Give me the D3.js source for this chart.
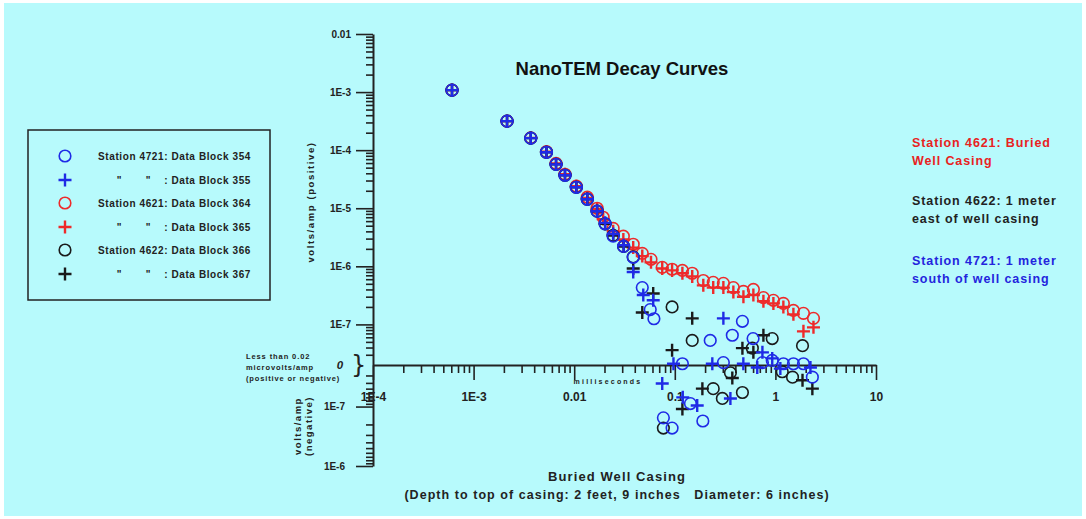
<!DOCTYPE html>
<html><head><meta charset="utf-8">
<script src="https://cdn.jsdelivr.net/npm/d3@7"></script>
<style>
body{margin:0;background:#fff;}
svg{display:block;font-family:"Liberation Sans",Arial,sans-serif;}
</style></head><body>
<svg id="c" width="1086" height="519"></svg>
<script>
// ---- data: [time (ms), volts/amp] ----
const blue354 = [[0.00061,1.08e-3],[0.00215,3.16e-4],[0.0037,1.61e-4],[0.0053,9.2e-5],[0.0066,5.7e-5],[0.0081,3.7e-5],[0.0105,2.3e-5],[0.0135,1.43e-5],[0.0169,8.9e-6],[0.0203,5.4e-6],[0.0244,3.3e-6],[0.031,2.2e-6],[0.0386,1.43e-6],[0.0475,4.3e-7],[0.057,1.8e-7],[0.062,1.25e-7],[0.077,-1.55e-7],[0.094,-2.3e-7],[0.119,2.1e-8],[0.143,-8.9e-8],[0.19,-1.75e-7],[0.225,5.3e-8],[0.304,2.2e-8],[0.373,6.5e-8],[0.47,1.13e-7],[0.6,5.7e-8],[0.743,2.2e-8],[0.93,2.4e-8],[1.2,2.1e-8],[1.51,2.1e-8],[1.9,2.1e-8],[2.33,-3.2e-8]];
const blue355 = [[0.00061,1.08e-3],[0.00215,3.16e-4],[0.0037,1.61e-4],[0.0053,9.2e-5],[0.0066,5.7e-5],[0.0081,3.7e-5],[0.0105,2.3e-5],[0.0135,1.43e-5],[0.0169,8.9e-6],[0.0203,5.6e-6],[0.0244,3.6e-6],[0.031,2.3e-6],[0.0386,8.0e-7],[0.0486,3.2e-7],[0.061,2.6e-7],[0.075,-4.1e-8],[0.097,2.1e-8],[0.12,-7e-8],[0.167,-9.6e-8],[0.236,2.1e-8],[0.304,1.27e-7],[0.357,-7.3e-8],[0.48,2.1e-8],[0.66,-2.2e-8],[0.743,3.3e-8],[0.93,2.6e-8],[1.12,-2.3e-8],[2.23,-2.2e-8]];
const red364 = [[0.00061,1.08e-3],[0.00215,3.16e-4],[0.0037,1.63e-4],[0.0053,9.4e-5],[0.0066,5.9e-5],[0.0081,3.85e-5],[0.0105,2.4e-5],[0.0135,1.55e-5],[0.0169,1.0e-5],[0.0194,7.0e-6],[0.0244,4.5e-6],[0.0308,3.3e-6],[0.0386,2.4e-6],[0.0475,1.67e-6],[0.058,1.32e-6],[0.075,9.6e-7],[0.094,8.9e-7],[0.119,8.5e-7],[0.149,7.6e-7],[0.192,5.7e-7],[0.241,5.3e-7],[0.304,5.1e-7],[0.382,4.3e-7],[0.481,3.7e-7],[0.604,4.0e-7],[0.76,2.9e-7],[0.955,2.6e-7],[1.2,2.3e-7],[1.51,1.74e-7],[1.9,1.55e-7],[2.39,1.27e-7]];
const red365 = [[0.00061,1.08e-3],[0.00215,3.16e-4],[0.0037,1.63e-4],[0.0053,9.4e-5],[0.0066,5.9e-5],[0.0081,3.85e-5],[0.0105,2.4e-5],[0.0135,1.5e-5],[0.0169,9.7e-6],[0.0194,6.5e-6],[0.0244,4.0e-6],[0.0308,2.9e-6],[0.0386,2.1e-6],[0.0475,1.5e-6],[0.058,1.17e-6],[0.075,9.2e-7],[0.094,8.5e-7],[0.119,7.6e-7],[0.149,6.7e-7],[0.192,4.7e-7],[0.241,4.3e-7],[0.304,4.3e-7],[0.382,3.6e-7],[0.481,3.0e-7],[0.604,3.2e-7],[0.76,2.5e-7],[0.955,2.3e-7],[1.2,2.0e-7],[1.51,1.49e-7],[1.9,7.6e-8],[2.39,8.9e-8]];
const black366 = [[0.00061,1.08e-3],[0.00215,3.16e-4],[0.0037,1.61e-4],[0.0053,9.2e-5],[0.0066,5.7e-5],[0.0081,3.7e-5],[0.0105,2.3e-5],[0.0135,1.43e-5],[0.0169,8.9e-6],[0.0203,5.4e-6],[0.0244,3.4e-6],[0.031,2.2e-6],[0.0386,1.45e-6],[0.077,-2.3e-7],[0.094,2.0e-7],[0.149,5.3e-8],[0.241,-5e-8],[0.297,-7.3e-8],[0.357,-2.7e-8],[0.47,-5.8e-8],[0.59,3.9e-8],[0.93,5.7e-8],[1.17,-2.6e-8],[1.48,-3.2e-8],[1.86,4.3e-8]];
const black367 = [[0.00061,1.08e-3],[0.00215,3.16e-4],[0.0037,1.61e-4],[0.0053,9.2e-5],[0.0066,5.7e-5],[0.0081,3.7e-5],[0.0105,2.3e-5],[0.0135,1.43e-5],[0.0169,8.9e-6],[0.0203,5.4e-6],[0.0244,3.4e-6],[0.031,2.2e-6],[0.0386,9.2e-7],[0.0475,1.6e-7],[0.061,3.4e-7],[0.094,3.6e-8],[0.119,-1.1e-7],[0.149,1.27e-7],[0.188,-5e-8],[0.373,-3.3e-8],[0.47,3.9e-8],[0.604,3.3e-8],[0.76,6.5e-8],[1.86,-3.6e-8],[2.33,-5e-8]];

const legendLabels = ["Station 4721: Data Block 354", ": Data Block 355", "Station 4621: Data Block 364", ": Data Block 365", "Station 4622: Data Block 366", ": Data Block 367"];
const xTickLabels = ["1E-4", "1E-3", "0.01", "0.1", "1", "10"];
const yPosTickLabels = ["1E-7", "1E-6", "1E-5", "1E-4", "1E-3", "0.01"];
const yNegTickLabels = ["1E-7", "1E-6"];
const notes = [
  ["Station 4621: Buried", "Well Casing"],
  ["Station 4622: 1 meter", "east of well casing"],
  ["Station 4721: 1 meter", "south of well casing"]
];

const BLUE = "#1f2ae6", RED = "#ee2a2a", BLACK = "#1a1a1a";
const series = [
  {data: red364, color: RED, shape: "circle"},
  {data: red365, color: RED, shape: "plus"},
  {data: black366, color: BLACK, shape: "circle"},
  {data: black367, color: BLACK, shape: "plus"},
  {data: blue354, color: BLUE, shape: "circle"},
  {data: blue355, color: BLUE, shape: "plus"}
];
const legendOrder = [
  {color: BLUE, shape: "circle"}, {color: BLUE, shape: "plus"},
  {color: RED, shape: "circle"}, {color: RED, shape: "plus"},
  {color: BLACK, shape: "circle"}, {color: BLACK, shape: "plus"}
];

const svg = d3.select("#c");
svg.append("rect").attr("x", 4).attr("y", 3).attr("width", 1078).attr("height", 513).attr("fill", "#b7fafc");

const ZERO = 2e-8;
const x = d3.scaleLog().domain([1e-4, 10]).range([373, 876]);
const yPos = d3.scaleLog().domain([ZERO, 0.01]).range([365, 34]);
const yNeg = d3.scaleLog().domain([ZERO, 1e-6]).range([365, 466]);
const y = v => v >= ZERO ? yPos(v) : (v <= -ZERO ? yNeg(-v) : yPos(ZERO));

function minorTicks(lo, hi) {
  const out = [];
  for (let e = Math.round(Math.log10(lo)); e < Math.round(Math.log10(hi)); e++) {
    for (let k = 1; k <= 9; k++) out.push(+(k * Math.pow(10, e)).toPrecision(3));
  }
  out.push(hi);
  return out;
}
const isMajor = v => Math.abs(Math.log10(v) - Math.round(Math.log10(v))) < 1e-6;

// y axis positive
const posTicks = minorTicks(1e-8, 0.01).filter(v => v > ZERO * 1.01);
const gyP = svg.append("g").attr("transform", "translate(373,0)")
  .call(d3.axisLeft(yPos).tickValues(posTicks).tickSize(17).tickSizeOuter(0).tickPadding(5)
    .tickFormat(v => isMajor(v) && v >= 1e-7 ? yPosTickLabels[Math.round(Math.log10(v)) + 7] : ""));
// y axis negative
const negTicks = minorTicks(1e-8, 1e-6).filter(v => v > ZERO * 1.01);
const gyN = svg.append("g").attr("transform", "translate(373,0)")
  .call(d3.axisLeft(yNeg).tickValues(negTicks).tickSize(17).tickSizeOuter(0).tickPadding(11)
    .tickFormat(v => isMajor(v) && v >= 1e-7 ? yNegTickLabels[Math.round(Math.log10(v)) + 7] : ""));
[gyP, gyN].forEach(g => {
  g.select(".domain").attr("stroke", "#222").attr("stroke-width", 2);
  g.selectAll(".tick line").attr("stroke", "#222").attr("stroke-width", 1.6)
    .attr("x2", v => isMajor(v) ? -17 : -7);
  g.selectAll(".tick text").attr("font-size", 10).attr("font-weight", "bold").attr("fill", "#222");
});

// x axis
const xTicks = minorTicks(1e-4, 10);
const gx = svg.append("g").attr("transform", "translate(0,365)")
  .call(d3.axisBottom(x).tickValues(xTicks).tickSize(15).tickSizeOuter(0).tickPadding(12)
    .tickFormat(v => isMajor(v) ? xTickLabels[Math.round(Math.log10(v)) + 4] : ""));
gx.select(".domain").attr("stroke", "#222").attr("stroke-width", 2);
gx.selectAll(".tick line").attr("stroke", "#222").attr("stroke-width", 1.6)
  .attr("y2", v => isMajor(v) ? 15 : 8);
gx.selectAll(".tick text").attr("font-size", 12).attr("font-weight", "bold").attr("fill", "#222");

// markers
function drawMarker(sel, shape, color) {
  if (shape === "circle") {
    sel.append("circle").attr("r", 5.8).attr("fill", "none").attr("stroke", color).attr("stroke-width", 1.6);
  } else {
    sel.append("path").attr("d", "M-6.5,0H6.5M0,-6.5V6.5").attr("stroke", color).attr("stroke-width", 2.4).attr("fill", "none");
  }
}
series.forEach(s => {
  const g = svg.append("g");
  s.data.forEach(d => {
    const m = g.append("g").attr("transform", `translate(${x(d[0])},${y(d[1])})`);
    drawMarker(m, s.shape, s.color);
  });
});

// title & texts
const txt = (xx, yy, str, size, opts = {}) => {
  const t = svg.append("text").attr("x", xx).attr("y", yy).text(str)
    .attr("font-size", size).attr("font-weight", opts.weight || "bold")
    .attr("fill", opts.fill || "#222").attr("text-anchor", opts.anchor || "start")
    .style("white-space", "pre");
  if (opts.ls) t.attr("letter-spacing", opts.ls);
  if (opts.style) t.attr("font-style", opts.style);
  if (opts.rotate) t.attr("transform", `rotate(-90,${xx},${yy})`);
  return t;
};
txt(622, 75, "NanoTEM Decay Curves", 18.5, {anchor: "middle", fill: "#111"});
txt(617, 481, "Buried Well Casing", 13, {anchor: "middle", ls: 1.1});
txt(617, 499, "(Depth to top of casing: 2 feet, 9 inches   Diameter: 6 inches)", 12.5, {anchor: "middle", ls: 1.05});
txt(608, 384, "milliseconds", 7, {anchor: "middle", ls: 2.2});
txt(314, 202, "volts/amp (positive)", 9.5, {anchor: "middle", ls: 1.6, rotate: true});
txt(301, 426, "volts/amp", 9.5, {anchor: "middle", ls: 1.5, rotate: true});
txt(312, 426, "(negative)", 9.5, {anchor: "middle", ls: 1.5, rotate: true});
txt(246, 359, "Less than 0.02", 7.5, {ls: 0.9});
txt(246, 370, "microvolts/amp", 7.5, {ls: 0.9});
txt(246, 381, "(positive or negative)", 7.5, {ls: 0.85});
txt(340, 369, "0", 11.5, {anchor: "middle", style: "italic"});
txt(351, 373, "}", 24, {weight: "normal", fill: "#222"}).attr("font-family", "DejaVu Sans");

// right notes
const noteColors = ["#e82222", "#222", "#2424dd"];
const noteY = [147, 205, 265];
notes.forEach((lines, i) => {
  lines.forEach((l, j) => txt(912, noteY[i] + j * 18, l, 12.5, {fill: noteColors[i], ls: 0.9}));
});

// legend
svg.append("rect").attr("x", 28).attr("y", 130).attr("width", 242).attr("height", 170)
  .attr("fill", "none").attr("stroke", "#222").attr("stroke-width", 1.5);
const legY = [156, 180, 203, 227, 250, 274];
legendOrder.forEach((l, i) => {
  const m = svg.append("g").attr("transform", `translate(65,${legY[i]})`);
  drawMarker(m, l.shape, l.color);
  txt(251, legY[i] + 4, legendLabels[i], 10, {ls: 0.6, anchor: "end"});
  if (i % 2 === 1) {
    txt(119, legY[i] + 4, "\"", 10, {anchor: "middle"});
    txt(148, legY[i] + 4, "\"", 10, {anchor: "middle"});
  }
});
</script>
</body></html>
